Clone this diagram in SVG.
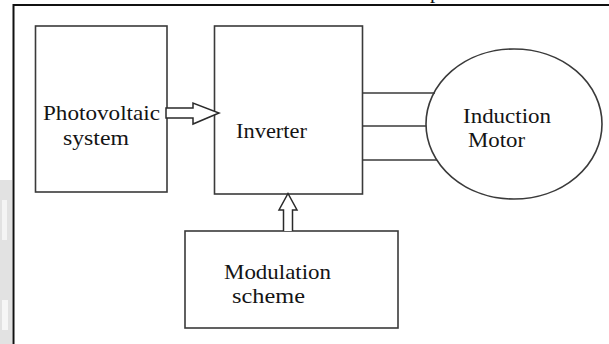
<svg xmlns="http://www.w3.org/2000/svg" width="609" height="344" viewBox="0 0 609 344">
  <style>
    .box { fill: #ffffff; stroke: #3a3a3a; stroke-width: 1.6; }
    .lbl { font-family: "Liberation Serif", "Times New Roman", serif; font-size: 21px; fill: #141414; }
    .wire { stroke: #3a3a3a; stroke-width: 1.6; fill: none; }
    .blk { fill: #ffffff; stroke: #2a2a2a; stroke-width: 1.5; stroke-linejoin: miter; }
  </style>
  <rect x="0" y="0" width="609" height="344" fill="#ffffff"/>
  <!-- faint page shading at the left margin -->
  <rect x="0" y="180" width="12" height="164" fill="#e2e2e2"/>
  <rect x="2" y="200" width="5" height="40" fill="#f4f4f4"/>
  <rect x="2" y="300" width="6" height="30" fill="#f6f6f6"/>
  <!-- fragment of the line above the figure -->
  <text class="lbl" x="430" y="-2">p</text>
  <!-- figure frame -->
  <rect x="13.5" y="5" width="700" height="400" fill="none" stroke="#111111" stroke-width="2"/>

  <g id="pv">
    <rect class="box" x="35.5" y="26" width="131.5" height="166"/>
    <text class="lbl" x="43" y="120" textLength="117" lengthAdjust="spacingAndGlyphs">Photovoltaic</text>
    <text class="lbl" x="63" y="145" textLength="66" lengthAdjust="spacingAndGlyphs">system</text>
  </g>

  <g id="inverter">
    <rect class="box" x="214.5" y="26" width="148" height="168"/>
    <text class="lbl" x="236" y="138" textLength="71" lengthAdjust="spacingAndGlyphs">Inverter</text>
  </g>

  <g id="motor">
    <ellipse class="box" cx="514" cy="124" rx="88" ry="75"/>
    <text class="lbl" x="463" y="123" textLength="88" lengthAdjust="spacingAndGlyphs">Induction</text>
    <text class="lbl" x="468" y="147" textLength="57" lengthAdjust="spacingAndGlyphs">Motor</text>
  </g>

  <g id="modulation">
    <rect class="box" x="185" y="231" width="213" height="97"/>
    <text class="lbl" x="224" y="279" textLength="107" lengthAdjust="spacingAndGlyphs">Modulation</text>
    <text class="lbl" x="232" y="303" textLength="73" lengthAdjust="spacingAndGlyphs">scheme</text>
  </g>

  <g id="connectors">
    <!-- hollow block arrow: PV to inverter -->
    <path class="blk" d="M166,108 L193,108 L193,103 L219,113 L193,124 L193,118 L166,118 Z"/>
    <!-- hollow block arrow: modulation up to inverter -->
    <path class="blk" d="M283.5,231 L283.5,210 L279,210 L288,193.5 L297,210 L292.5,210 L292.5,231"/>
    <!-- three-phase lines to the motor -->
    <line class="wire" x1="362.5" y1="93" x2="435" y2="93"/>
    <line class="wire" x1="362.5" y1="126" x2="426" y2="126"/>
    <line class="wire" x1="362.5" y1="160" x2="437" y2="160"/>
  </g>
</svg>
